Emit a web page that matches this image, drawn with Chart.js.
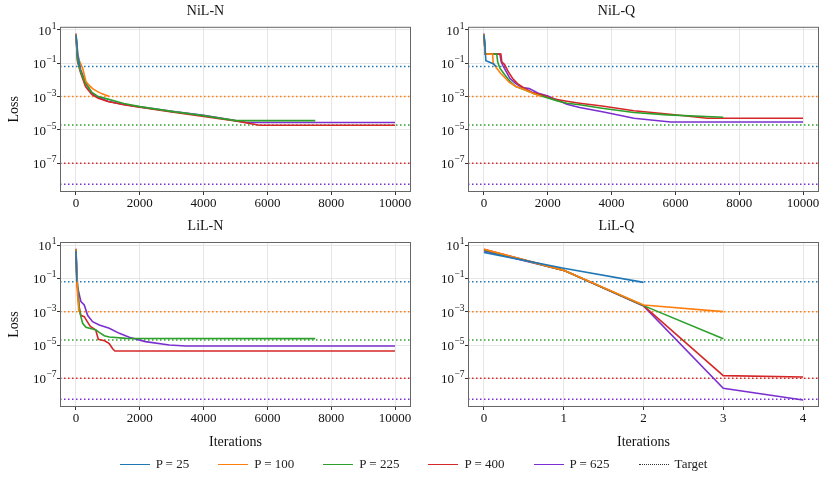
<!DOCTYPE html>
<html>
<head>
<meta charset="utf-8">
<script src="https://cdn.jsdelivr.net/npm/chart.js@4"></script>
<style>
body { margin: 0; background: #fff; font-family: "Liberation Serif", "Times New Roman", serif; }
#wrap { position: relative; width: 827px; height: 478px; overflow: hidden; }
.box { position: absolute; }
#legend { position: absolute; left: 0; top: 455px; width: 827px; height: 18px; display: flex; justify-content: center; align-items: center; font-size: 13px; color: #222; }
.item { display: flex; align-items: center; margin: 0 14.5px; }
.swatch { width: 30px; height: 0; border-top: 1.6px solid; margin-right: 6px; }
.swatch.dot { border-top: 1.6px dotted #333; }
</style>
</head>
<body>
<div id="wrap">
  <div class="box" style="left:0;top:0"><canvas id="c1" width="414" height="212"></canvas></div>
  <div class="box" style="left:414px;top:0"><canvas id="c2" width="413" height="212"></canvas></div>
  <div class="box" style="left:0;top:212px"><canvas id="c3" width="414" height="246"></canvas></div>
  <div class="box" style="left:414px;top:212px"><canvas id="c4" width="413" height="246"></canvas></div>
  <div id="legend"></div>
</div>
<script>
// series / targets
var pValues = [25, 100, 225, 400, 625];
var colors = ['#1f77b4', '#ff7f0e', '#2ca02c', '#d62728', '#7b2fd0'];
var targets = [6.3e-2, 1e-3, 2e-5, 1e-7, 5.5e-9];
var iterTicks = [0, 2000, 4000, 6000, 8000, 10000];
var lilqTicks = [0, 1, 2, 3, 4];
var lossTicks = [1e1, 1e-1, 1e-3, 1e-5, 1e-7];

// NiL-N  [iteration, loss]
var nilN_p25 = [[0,5.0],[30,1.5],[60,0.3],[125,0.063]];
var nilN_p100 = [[0,5.5],[50,0.4],[100,0.15],[210,0.05],[313,0.008],[400,0.005],[520,0.003],[650,0.0021],[800,0.0015],[1050,0.001]];
var nilN_p225 = [[0,5.5],[50,0.15],[150,0.03],[300,0.006],[500,0.0018],[700,0.001],[1000,0.0007],[1500,0.00038],[2000,0.00025],[3000,0.00013],[4000,0.000072],[5000,0.000036],[7500,0.000036]];
var nilN_p400 = [[0,5.5],[50,0.12],[150,0.025],[300,0.004],[500,0.0013],[700,0.0008],[1000,0.0005],[1500,0.00032],[2000,0.00023],[3000,0.00012],[4000,0.000065],[5000,0.000035],[5750,0.000019],[10000,0.000019]];
var nilN_p625 = [[0,6],[50,0.18],[150,0.04],[300,0.007],[500,0.0016],[700,0.0009],[1000,0.00052],[1500,0.00033],[2000,0.00024],[3000,0.00013],[4000,0.000075],[5000,0.000036],[5350,0.000028],[10000,0.000028]];

// NiL-Q
var nilQ_p25 = [[0,5],[30,1.2],[60,0.14],[200,0.11],[300,0.09],[380,0.063]];
var nilQ_p100 = [[0,5.5],[40,0.35],[270,0.35],[290,0.1],[400,0.05],[520,0.025],[800,0.007],[1000,0.004],[1300,0.0025],[1550,0.0015],[1800,0.001]];
var nilQ_p225 = [[0,5.5],[40,0.35],[400,0.35],[430,0.12],[500,0.05],[650,0.02],[815,0.008],[1000,0.004],[1290,0.0025],[1600,0.0014],[1850,0.001],[2300,0.00055],[2600,0.0004],[3000,0.00032],[3700,0.0002],[4700,0.00011],[5750,0.00008],[7500,0.000058]];
var nilQ_p400 = [[0,5.5],[40,0.35],[530,0.35],[560,0.12],[650,0.08],[765,0.03],[900,0.012],[1050,0.006],[1290,0.003],[1500,0.0018],[1850,0.0012],[2200,0.0007],[2600,0.00052],[3000,0.0004],[3700,0.00027],[4700,0.00014],[5750,0.00009],[7000,0.00005],[10000,0.00005]];
var nilQ_p625 = [[0,6],[40,0.35],[500,0.35],[540,0.12],[600,0.07],[815,0.012],[1000,0.006],[1200,0.0035],[1420,0.003],[1700,0.0016],[1980,0.0011],[2600,0.00035],[3000,0.00022],[3750,0.00012],[4700,0.00005],[5850,0.00003],[10000,0.00003]];

// LiL-N
var lilN_p25 = [[0,4.5],[25,0.063]];
var lilN_p100 = [[0,5.5],[20,0.5],[50,0.01],[90,0.001]];
var lilN_p225 = [[0,5.5],[20,0.25],[100,0.0016],[155,0.0005],[210,0.0002],[313,0.000115],[520,0.00009],[625,0.00008],[730,0.000057],[887,0.000036],[1044,0.00003],[1570,0.000025],[7500,0.000024]];
var lilN_p400 = [[0,5.5],[20,0.2],[50,0.02],[100,0.002],[150,0.0006],[260,0.0005],[330,0.0003],[450,0.00013],[550,0.0001],[620,0.00008],[700,0.000022],[900,0.000018],[1044,0.000012],[1150,0.000006],[1220,0.0000044],[10000,0.0000044]];
var lilN_p625 = [[0,6],[50,0.03],[155,0.004],[260,0.0025],[365,0.0006],[520,0.00025],[730,0.00016],[1044,0.0001],[1360,0.00005],[1670,0.000029],[2175,0.000016],[2925,0.00001],[3450,0.0000087],[10000,0.0000087]];

// LiL-Q (one value per iteration 0,1,2,...)
var lilQ_p25 = [3.6, 0.4, 0.057];
var lilQ_p100 = [5.5, 0.3, 0.0025, 0.001];
var lilQ_p225 = [5.2, 0.3, 0.0023, 0.000024];
var lilQ_p400 = [5.5, 0.3, 0.0023, 1.45e-7, 1.2e-7];
var lilQ_p625 = [4.6, 0.3, 0.0022, 2.5e-8, 5e-9];

var FONT = '"Liberation Serif", "Times New Roman", serif';

function pairs(a) {
	return a.map(function(p) { return {x: p[0], y: p[1]}; });
}
function indexed(a) {
	return a.map(function(v, i) { return {x: i, y: v}; });
}

// dotted target lines, full frame, 10^n tick labels with real superscripts
var extras = {
	id: 'extras',
	beforeDatasetsDraw: function(chart) {
		var ctx = chart.ctx, a = chart.chartArea, ys = chart.scales.y;
		ctx.save();
		ctx.beginPath();
		ctx.rect(a.left, a.top, a.right - a.left, a.bottom - a.top);
		ctx.clip();
		ctx.lineWidth = 1.5;
		ctx.setLineDash([1.5, 2.5]);
		for (var i = 0; i < targets.length; i++) {
			var y = ys.getPixelForValue(targets[i]);
			ctx.strokeStyle = colors[i];
			ctx.beginPath();
			ctx.moveTo(a.left, y);
			ctx.lineTo(a.right, y);
			ctx.stroke();
		}
		ctx.restore();
	},
	afterDatasetsDraw: function(chart) {
		var ctx = chart.ctx, a = chart.chartArea, ys = chart.scales.y;
		ctx.save();
		ctx.strokeStyle = '#666';
		ctx.lineWidth = 1;
		ctx.strokeRect(a.left + 0.5, a.top + 0.5, a.right - a.left - 1, a.bottom - a.top - 1);

		ctx.fillStyle = '#111';
		ctx.textBaseline = 'alphabetic';
		ctx.textAlign = 'left';
		var right = a.left - 4;
		lossTicks.forEach(function(v) {
			var y = ys.getPixelForValue(v);
			var exp = String(Math.round(Math.log10(v))).replace('-', '\u2212');
			ctx.font = '9.5px ' + FONT;
			var we = ctx.measureText(exp).width;
			ctx.font = '13px ' + FONT;
			var wb = ctx.measureText('10').width;
			var x0 = right - we - wb;
			ctx.fillText('10', x0, y + 5);
			ctx.font = '9.5px ' + FONT;
			ctx.fillText(exp, x0 + wb + 0.5, y - 1);
		});
		ctx.restore();
	}
};

function makeChart(id, title, seriesList, xs, opt) {
	var datasets = seriesList.map(function(s, i) {
		return {
			label: 'P = ' + pValues[i],
			data: s,
			borderColor: colors[i],
			backgroundColor: colors[i],
			borderWidth: 1.6,
			pointRadius: 0,
			tension: 0,
			fill: false
		};
	});
	return new Chart(document.getElementById(id), {
		type: 'line',
		data: {datasets: datasets},
		plugins: [extras],
		options: {
			responsive: false,
			animation: false,
			layout: {padding: {left: 0, right: opt.padRight, top: 0, bottom: 0}},
			plugins: {
				legend: {display: false},
				tooltip: {enabled: false},
				title: {
					display: true,
					text: title,
					color: '#111',
					font: {family: FONT, size: 14, weight: 'normal'},
					padding: {top: opt.titleTop, bottom: opt.titleBottom}
				}
			},
			scales: {
				x: {
					type: 'linear',
					min: opt.xMin,
					max: opt.xMax,
					afterBuildTicks: function(s) { s.ticks = xs.map(function(v) { return {value: v}; }); },
					afterFit: function(s) { s.height = opt.xHeight; },
					grid: {color: '#e6e6e6', lineWidth: 1, drawTicks: true, tickLength: 3, tickColor: '#333'},
					border: {display: false},
					ticks: {color: '#111', padding: 1, maxRotation: 0, font: {family: FONT, size: 13},
						callback: function(v) { return String(v); }},
					title: {display: opt.xTitle, text: 'Iterations', color: '#111',
						font: {family: FONT, size: 14}, padding: {top: 0, bottom: 7}}
				},
				y: {
					type: 'logarithmic',
					min: Math.pow(10, -8.72),
					max: Math.pow(10, 1.18),
					afterBuildTicks: function(s) { s.ticks = lossTicks.map(function(v) { return {value: v}; }); },
					afterFit: function(s) { s.width = opt.yWidth; },
					grid: {color: '#e6e6e6', lineWidth: 1, drawTicks: true, tickLength: 3, tickColor: '#333'},
					border: {display: false},
					ticks: {display: false},
					title: {display: opt.yTitle, text: 'Loss', color: '#111',
						font: {family: FONT, size: 14}, padding: {top: 6, bottom: 0}}
				}
			}
		}
	});
}

makeChart('c1', 'NiL-N', [nilN_p25, nilN_p100, nilN_p225, nilN_p400, nilN_p625].map(pairs), iterTicks,
	{xMin: -500, xMax: 10500, padRight: 3, yWidth: 60, xHeight: 20, titleTop: 2.5, titleBottom: 7.5, xTitle: false, yTitle: true});
makeChart('c2', 'NiL-Q', [nilQ_p25, nilQ_p100, nilQ_p225, nilQ_p400, nilQ_p625].map(pairs), iterTicks,
	{xMin: -500, xMax: 10500, padRight: 8, yWidth: 54, xHeight: 20, titleTop: 2.5, titleBottom: 7.5, xTitle: false, yTitle: false});
makeChart('c3', 'LiL-N', [lilN_p25, lilN_p100, lilN_p225, lilN_p400, lilN_p625].map(pairs), iterTicks,
	{xMin: -500, xMax: 10500, padRight: 3, yWidth: 60, xHeight: 51, titleTop: 5.6, titleBottom: 7.6, xTitle: true, yTitle: true});
makeChart('c4', 'LiL-Q', [lilQ_p25, lilQ_p100, lilQ_p225, lilQ_p400, lilQ_p625].map(indexed), lilqTicks,
	{xMin: -0.2, xMax: 4.2, padRight: 8, yWidth: 54, xHeight: 51, titleTop: 5.6, titleBottom: 7.6, xTitle: true, yTitle: false});

// legend
var legend = document.getElementById('legend');
pValues.forEach(function(p, i) {
	var it = document.createElement('div');
	it.className = 'item';
	it.innerHTML = '<span class="swatch" style="border-top-color:' + colors[i] + '"></span><span>P = ' + p + '</span>';
	legend.appendChild(it);
});
var t = document.createElement('div');
t.className = 'item';
t.innerHTML = '<span class="swatch dot"></span><span>Target</span>';
legend.appendChild(t);
</script>
</body>
</html>
